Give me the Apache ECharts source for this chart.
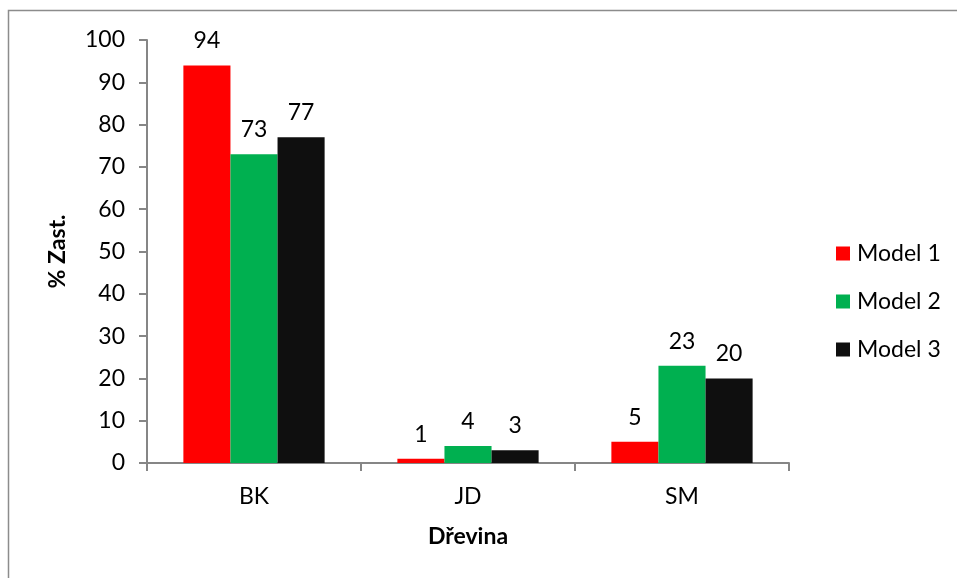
<!DOCTYPE html>
<html>
<head>
<meta charset="utf-8">
<script src="https://cdn.jsdelivr.net/npm/echarts@6/dist/echarts.min.js"></script>
<style>
  html, body { margin: 0; padding: 0; background: #fff; }
  #chart { width: 957px; height: 578px; }
</style>
</head>
<body>
<div id="chart"></div>
<script>
// Tree species categories and share (%) per model
var categories = ['BK', 'JD', 'SM'];
var model1 = [94, 1, 5];
var model2 = [73, 4, 23];
var model3 = [77, 3, 20];
var seriesNames = ['Model 1', 'Model 2', 'Model 3'];
var seriesColors = ['#ff0000', '#00b050', '#0f0f0f'];

var FONT = 'Lato';
var FS = 23;
var axisColor = '#868686';

function barSeries(name, data, color) {
  return {
    name: name,
    type: 'bar',
    data: data,
    barGap: '0%',
    barCategoryGap: '34%',
    itemStyle: { color: color },
    label: {
      show: true,
      position: 'top',
      distance: 13,
      color: '#000',
      fontFamily: FONT,
      fontSize: FS
    }
  };
}

var chart = echarts.init(document.getElementById('chart'), null, { renderer: 'canvas' });
chart.setOption({
  animation: false,
  backgroundColor: '#fff',
  textStyle: { fontFamily: FONT },
  graphic: [{
    type: 'rect',
    shape: { x: 8.5, y: 10.5, width: 1000, height: 1000 },
    style: { fill: 'none', stroke: '#8c8c8c', lineWidth: 1.5 },
    silent: true
  }],
  grid: { left: 147, top: 40, right: 168, bottom: 115 },
  legend: {
    orient: 'vertical',
    left: 831,
    top: 237,
    itemWidth: 14,
    itemHeight: 14,
    itemGap: 25,
    icon: 'rect',
    textStyle: { fontFamily: FONT, fontSize: FS, lineHeight: 23, color: '#000', padding: [0, 0, 0, 2] },
    data: seriesNames
  },
  xAxis: {
    type: 'category',
    data: categories,
    name: 'Dřevina',
    nameLocation: 'middle',
    nameGap: 62,
    nameTextStyle: { fontFamily: FONT, fontSize: FS, fontWeight: 'bold', color: '#000' },
    axisLine: { lineStyle: { color: axisColor, width: 2 } },
    axisTick: { show: true, length: 8, alignWithLabel: false, lineStyle: { color: axisColor, width: 2 } },
    axisLabel: { margin: 22, fontFamily: FONT, fontSize: FS, color: '#000' }
  },
  yAxis: {
    type: 'value',
    min: 0,
    max: 100,
    interval: 10,
    name: '% Zast.',
    nameLocation: 'middle',
    nameGap: 78,
    nameRotate: 90,
    nameTextStyle: { fontFamily: FONT, fontSize: FS, fontWeight: 'bold', color: '#000' },
    axisLine: { show: true, lineStyle: { color: axisColor, width: 2 } },
    axisTick: { show: true, length: 8, lineStyle: { color: axisColor, width: 2 } },
    splitLine: { show: false },
    axisLabel: { margin: 22, fontFamily: FONT, fontSize: FS, color: '#000' }
  },
  series: [
    barSeries(seriesNames[0], model1, seriesColors[0]),
    barSeries(seriesNames[1], model2, seriesColors[1]),
    barSeries(seriesNames[2], model3, seriesColors[2])
  ]
});
</script>
</body>
</html>
